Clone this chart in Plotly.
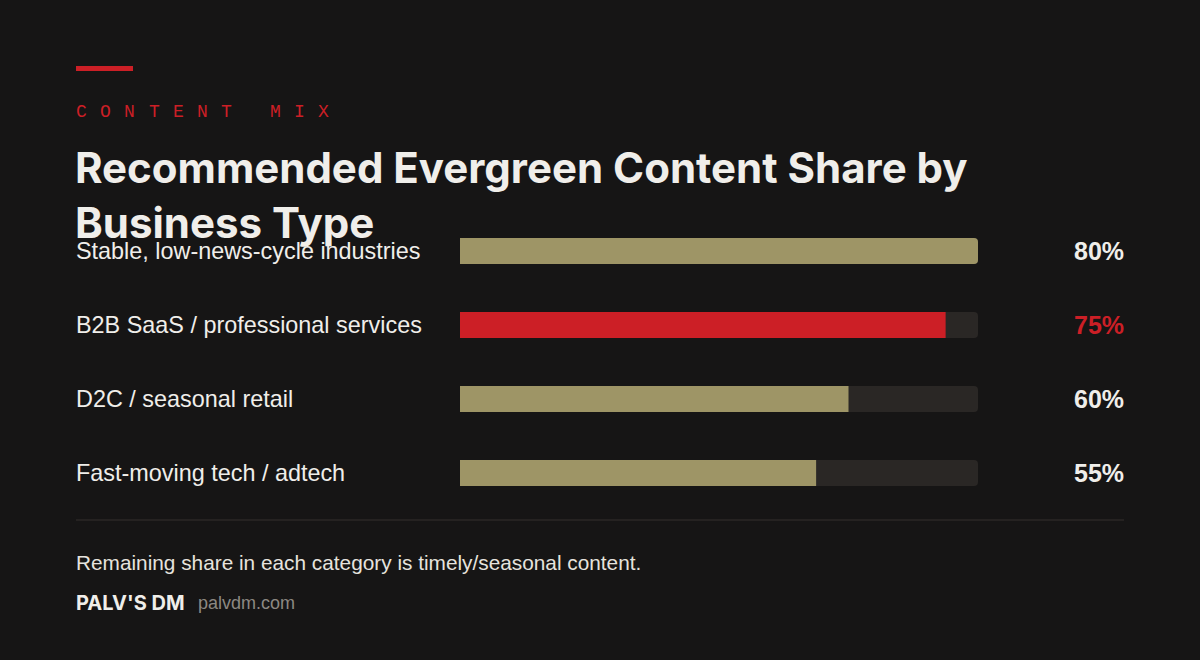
import plotly.graph_objects as go

categories = [
    "Stable, low-news-cycle industries",
    "B2B SaaS / professional services",
    "D2C / seasonal retail",
    "Fast-moving tech / adtech",
]
evergreen_share = [80, 75, 60, 55]
highlight = "B2B SaaS / professional services"

BG = "#161515"
KHAKI = "#9e9566"
RED = "#cc1f26"
TRACK = "#2a2725"
WHITE = "#f0eeea"

W, H = 1200, 660
L, R, T, B = 460, 978, 214, 510   # plot area in pixels


def px(x):
    return (x - L) / (R - L)


def py(y):
    return (B - y) / (B - T)


top = max(evergreen_share)
colors = [RED if c == highlight else KHAKI for c in categories]

fig = go.Figure()
fig.add_trace(go.Bar(
    y=categories, x=[top] * len(categories), orientation="h",
    marker=dict(color=TRACK, cornerradius=4, line_width=0), width=0.35,
    hoverinfo="skip", showlegend=False,
))
fig.add_trace(go.Bar(
    y=categories, x=evergreen_share, orientation="h",
    marker=dict(color=colors, cornerradius=4, line_width=0), width=0.35,
    showlegend=False,
))

ann = []
for c, v in zip(categories, evergreen_share):
    ann.append(dict(x=px(74), xref="paper", y=c, yref="y", text=c,
                    showarrow=False, xanchor="left", yanchor="middle",
                    font=dict(family="Liberation Sans", size=23.4, color=WHITE)))
    ann.append(dict(x=px(1126), xref="paper", y=c, yref="y", text=f"{v}%",
                    showarrow=False, xanchor="right", yanchor="middle",
                    font=dict(family="Liberation Sans", size=25,
                              color=RED if c == highlight else WHITE, weight="bold")))

# letter-spaced kicker
for i, ch in enumerate("CONTENT MIX"):
    if ch == " ":
        continue
    ann.append(dict(x=px(74 + i * 24.2), xref="paper", y=py(112), yref="paper",
                    text=ch, showarrow=False, xanchor="left", yanchor="middle",
                    font=dict(family="Liberation Mono", size=18, color=RED)))

ann.append(dict(x=px(73), xref="paper", y=py(140), yref="paper",
                text="Recommended Evergreen Content Share by<br>Business Type",
                showarrow=False, xanchor="left", yanchor="top", align="left",
                font=dict(family="Inter", size=42, color=WHITE, weight="bold")))
ann.append(dict(x=px(74), xref="paper", y=py(562), yref="paper",
                text="Remaining share in each category is timely/seasonal content.",
                showarrow=False, xanchor="left", yanchor="middle",
                font=dict(family="Liberation Sans", size=20.8, color="#e6e3de")))
ann.append(dict(x=px(74), xref="paper", y=py(603), yref="paper", text="PALV'S DM",
                showarrow=False, xanchor="left", yanchor="middle",
                font=dict(family="Inter", size=20, color=WHITE, weight="bold")))
ann.append(dict(x=px(196), xref="paper", y=py(603), yref="paper", text="palvdm.com",
                showarrow=False, xanchor="left", yanchor="middle",
                font=dict(family="Liberation Sans", size=18, color="#8c8882")))

shapes = [
    dict(type="rect", xref="paper", yref="paper", x0=px(76), x1=px(133),
         y0=py(66), y1=py(71), fillcolor=RED, line_width=0),
    dict(type="line", xref="paper", yref="paper", x0=px(76), x1=px(1124),
         y0=py(520), y1=py(520), line=dict(color="#34302e", width=1)),
]

fig.update_layout(
    width=W, height=H, barmode="overlay",
    paper_bgcolor=BG, plot_bgcolor=BG,
    margin=dict(l=L, r=W - R, t=T, b=H - B, pad=0),
    xaxis=dict(range=[0, top], visible=False, fixedrange=True),
    yaxis=dict(categoryorder="array", categoryarray=categories,
               autorange="reversed", visible=False, fixedrange=True),
    annotations=ann, shapes=shapes,
)

fig.write_html(
    "out.html",
    config={"displayModeBar": False},
    post_script="document.body.style.margin='0';document.body.style.background='%s';" % BG,
)
